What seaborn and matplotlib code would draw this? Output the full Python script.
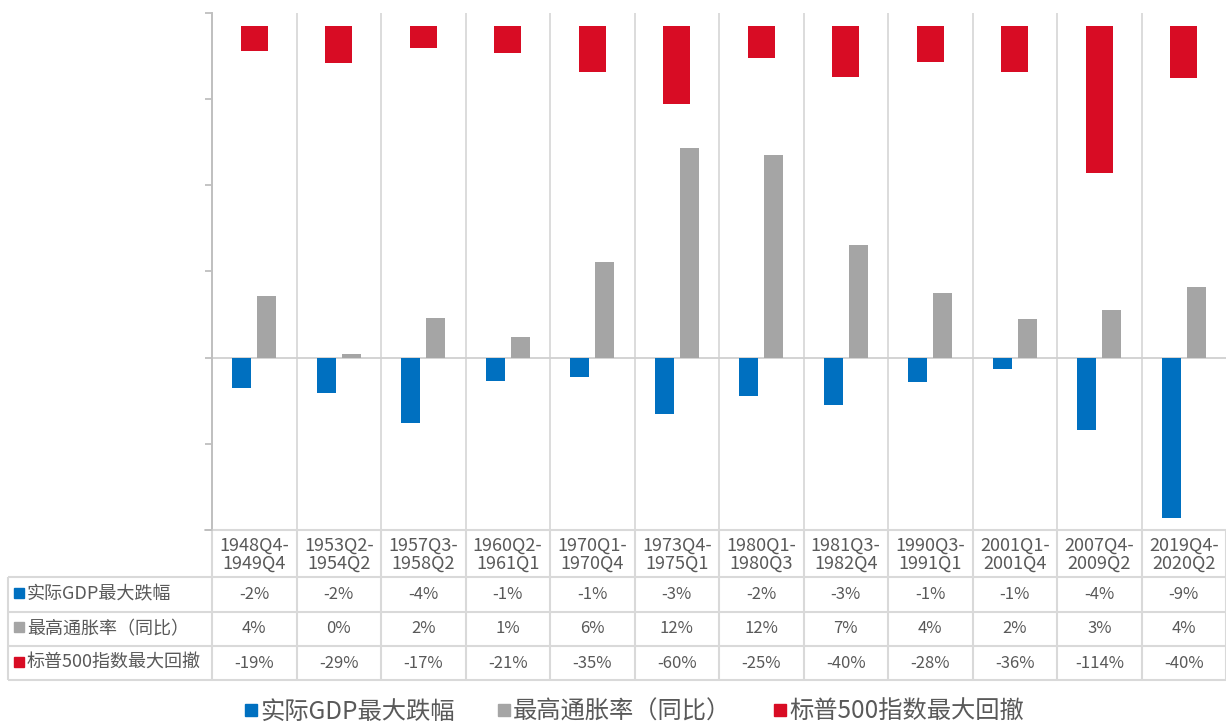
import numpy as np
import pandas as pd
import matplotlib
matplotlib.use("Agg")
import matplotlib.pyplot as plt
import matplotlib.transforms as mtransforms
from matplotlib.lines import Line2D
import seaborn as sns

# ---------------- data ----------------
periods = ["1948Q4-1949Q4", "1953Q2-1954Q2", "1957Q3-1958Q2", "1960Q2-1961Q1",
           "1970Q1-1970Q4", "1973Q4-1975Q1", "1980Q1-1980Q3", "1981Q3-1982Q4",
           "1990Q3-1991Q1", "2001Q1-2001Q4", "2007Q4-2009Q2", "2019Q4-2020Q2"]
gdp_drop = [-1.76, -2.05, -3.79, -1.33, -1.13, -3.26, -2.24, -2.74, -1.39, -0.65, -4.18, -9.29]
cpi_peak = [3.55, 0.23, 2.32, 1.22, 5.55, 12.18, 11.78, 6.54, 3.77, 2.23, 2.77, 4.10]
spx_dd = [-19.4, -28.6, -16.8, -21.0, -35.3, -60.4, -24.9, -39.8, -27.7, -36.0, -114.3, -40.0]
series_names = ["实际GDP最大跌幅", "最高通胀率（同比）", "标普500指数最大回撤"]

# ---------------- style ----------------
sns.set_style("white")
plt.rcParams['font.family'] = ['Noto Sans CJK SC', 'DejaVu Sans']
C_BLUE, C_GRAY, C_RED = "#0070C0", "#A5A5A5", "#D80C24"
TXT = "#595959"
GRID = "#D9D9D9"
AXC = "#BFBFBF"

W, H = 1226, 724
fig = plt.figure(figsize=(W / 100, H / 100), dpi=100)

def fx(px):
    return px / W

def fy(py):
    return 1 - py / H

# main plot area: x 212..1226, y 13..530
ax = fig.add_axes([fx(212), fy(530), fx(1226) - fx(212), fy(13) - fy(530)])

df = pd.DataFrame({
    "period": periods * 2,
    "value": gdp_drop + cpi_peak,
    "series": [series_names[0]] * len(periods) + [series_names[1]] * len(periods),
})
sns.barplot(data=df, x="period", y="value", hue="series", hue_order=series_names[:2],
            palette=[C_BLUE, C_GRAY], width=0.59, gap=0.237, saturation=1,
            linewidth=0, legend=False, ax=ax, zorder=3)

ax2 = ax.twinx()
sns.barplot(x=periods, y=spx_dd, color=C_RED, width=0.32, saturation=1,
            linewidth=0, ax=ax2, zorder=3)

ax.set_xlim(-0.5, len(periods) - 0.5)
ax.set_ylim(-10, 20)
ax.set_yticks(np.arange(-10, 21, 5))
ax2.set_ylim(-390.7, 10.1)
ax2.set_yticks([])

# category separators
ax.set_xticks(np.arange(0.5, len(periods) - 1, 1), minor=True)
ax.grid(which='minor', axis='x', color=GRID, lw=1.3)
ax.grid(which='major', visible=False)
ax.axhline(0, color="#D0D0D0", lw=1.3, zorder=2)

for a in (ax, ax2):
    a.set_xlabel("")
    a.set_ylabel("")
    for s in a.spines.values():
        s.set_visible(False)
    a.patch.set_alpha(0)
ax.spines['left'].set_visible(True)
ax.spines['left'].set_color(AXC)
ax.spines['left'].set_linewidth(1.4)
ax.tick_params(axis='y', which='major', length=5, width=1.3, color=AXC, labelleft=False, left=True)
ax.tick_params(axis='x', which='both', length=0, labelbottom=False, bottom=False)
ax2.tick_params(axis='both', length=0, labelright=False, labelbottom=False)

# ---------------- data table ----------------
unit = (1226 - 212) / len(periods)
tleft = -0.5 - (212 - 8) / unit
tax = fig.add_axes([fx(8), fy(680), fx(1226) - fx(8), fy(530) - fy(680)])
tax.set_xlim(tleft, len(periods) - 0.5)
tax.set_ylim(680, 530)
tax.axis('off')

row_edges = [530, 577, 611.7, 646, 680]
lk = dict(color=GRID, lw=1.5, clip_on=False, solid_capstyle='butt')
tax.plot([-0.5, len(periods) - 0.5], [row_edges[0]] * 2, **lk)
for yv in row_edges[1:]:
    tax.plot([tleft, len(periods) - 0.5], [yv, yv], **lk)
for xv in np.arange(-0.5, len(periods), 1):
    tax.plot([xv, xv], [530, 680], **lk)
tax.plot([tleft, tleft], [577, 680], **lk)
# short tick at bottom of plot area
tax.plot([-0.5 - 7 / unit, -0.5], [530, 530], color=AXC, lw=1.3, clip_on=False)

for i, p in enumerate(periods):
    a, b = p.split("-")
    tax.text(i, (row_edges[0] + row_edges[1]) / 2 + 1, f"{a}-\n{b}", ha='center', va='center',
             fontsize=13, color=TXT, linespacing=1.0)

rows = [gdp_drop, cpi_peak, spx_dd]
colors = [C_BLUE, C_GRAY, C_RED]
blend = mtransforms.blended_transform_factory(tax.transAxes, tax.transData)
for r, (vals, name, c) in enumerate(zip(rows, series_names, colors)):
    yc = (row_edges[r + 1] + row_edges[r + 2]) / 2
    tax.plot([(18.5 - 8) / 1218], [yc - 1.5], marker='s', ms=6.5, color=c, ls='',
             transform=blend, clip_on=False)
    tax.text((27 - 8) / 1218, yc, name, ha='left', va='center', fontsize=13,
             color=TXT, transform=blend)
    for i, v in enumerate(vals):
        tax.text(i, yc, f"{v:.0f}%", ha='center', va='center', fontsize=12, color=TXT)

# ---------------- legend ----------------
handles = [Line2D([], [], marker='s', ls='', color=c, markersize=9) for c in colors]
fig.legend(handles, series_names, loc='center', bbox_to_anchor=(fx(634), fy(712)),
           ncol=3, frameon=False, fontsize=17.5, handletextpad=0.1, columnspacing=1.7,
           handlelength=0.6, labelcolor=TXT, borderpad=0)

fig.savefig("out.png", dpi=100)
